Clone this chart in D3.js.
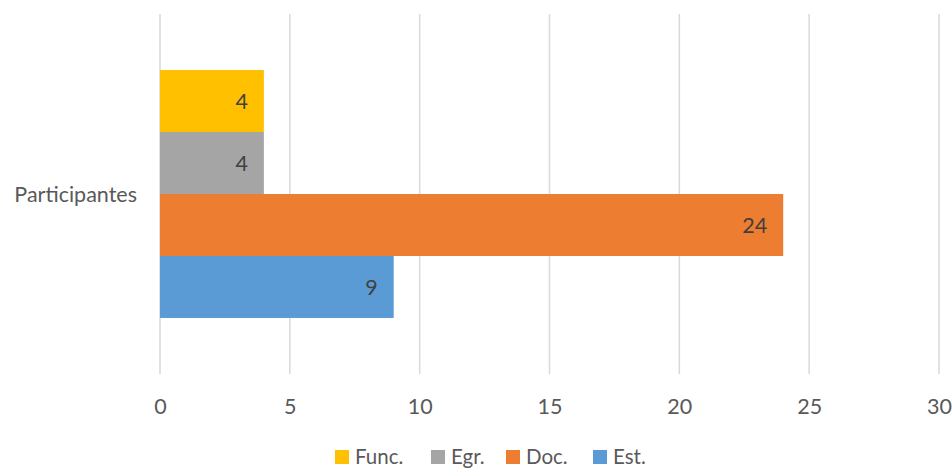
<!DOCTYPE html>
<html>
<head>
<meta charset="utf-8">
<script src="https://cdn.jsdelivr.net/npm/d3@7"></script>
<style>
  body { margin: 0; background: #fff; }
  text { font-family: Lato, "Open Sans", sans-serif; }
</style>
</head>
<body>
<div id="chart"></div>
<script>
// Width and height
const WIDTH = 952;
const HEIGHT = 469;
const FONT = 21.5;

// Data
const categories = ["Participantes"];
const seriesNames = ["Est.", "Doc.", "Egr.", "Func."];
const seriesValues = [9, 24, 4, 4];
const seriesColors = ["#5B9BD5", "#ED7D31", "#A5A5A5", "#FFC000"];
const legendOrder = ["Func.", "Egr.", "Doc.", "Est."];
const xTicks = [0, 5, 10, 15, 20, 25, 30];

// Plot area
const LEFT = 160;
const RIGHT = 939;
const TOP = 14;
const BOTTOM = 374;

const svg = d3
  .select("#chart")
  .append("svg")
  .attr("width", WIDTH)
  .attr("height", HEIGHT);

// Scales
const x = d3.scaleLinear().domain([0, 30]).range([LEFT, RIGHT]);

const yCat = d3
  .scaleBand()
  .domain(categories)
  .range([BOTTOM, TOP])
  .paddingInner(0)
  .paddingOuter(0.226);

// series from bottom (Est.) to top (Func.)
const ySeries = d3
  .scaleBand()
  .domain(seriesNames)
  .range([yCat.bandwidth(), 0])
  .padding(0);

// Gridlines
svg
  .append("g")
  .selectAll("line")
  .data(xTicks)
  .enter()
  .append("line")
  .attr("x1", (d) => x(d))
  .attr("x2", (d) => x(d))
  .attr("y1", TOP)
  .attr("y2", BOTTOM)
  .attr("stroke", "#D9D9D9")
  .attr("stroke-width", 1.5);

// X axis labels
const xAxis = svg
  .append("g")
  .attr("transform", "translate(0," + (BOTTOM + 40) + ")")
  .call(d3.axisBottom(x).tickValues(xTicks).tickSize(0).tickPadding(0));

xAxis.select(".domain").remove();
xAxis
  .selectAll("text")
  .attr("dy", null)
  .attr("y", 0)
  .attr("font-size", FONT)
  .attr("font-family", "Lato, sans-serif")
  .attr("fill", "#595959");

// Category label
svg
  .selectAll(".cat")
  .data(categories)
  .enter()
  .append("text")
  .attr("class", "cat")
  .attr("x", LEFT - 23)
  .attr("y", (d) => yCat(d) + yCat.bandwidth() / 2 + 8)
  .attr("text-anchor", "end")
  .attr("font-size", FONT)
  .attr("fill", "#595959")
  .text((d) => d);

// Bars
const rows = seriesNames.map((name, i) => ({
  name: name,
  value: seriesValues[i],
  color: seriesColors[i],
}));

const g = svg
  .append("g")
  .attr("transform", "translate(0," + yCat(categories[0]) + ")");

g.selectAll("rect")
  .data(rows)
  .enter()
  .append("rect")
  .attr("x", x(0))
  .attr("y", (d) => ySeries(d.name))
  .attr("width", (d) => x(d.value) - x(0))
  .attr("height", ySeries.bandwidth())
  .attr("fill", (d) => d.color);

// Value labels, inside end
g.selectAll(".lbl")
  .data(rows)
  .enter()
  .append("text")
  .attr("class", "lbl")
  .attr("x", (d) => x(d.value) - 16)
  .attr("y", (d) => ySeries(d.name) + ySeries.bandwidth() / 2 + 8)
  .attr("text-anchor", "end")
  .attr("font-size", FONT)
  .attr("fill", "#404040")
  .text((d) => d.value);

// Legend
const legendX = [335, 431, 506, 593];
const legend = svg
  .append("g")
  .selectAll("g")
  .data(legendOrder)
  .enter()
  .append("g")
  .attr("transform", (d, i) => "translate(" + legendX[i] + ",450)");

legend
  .append("rect")
  .attr("width", 14)
  .attr("height", 14)
  .attr("fill", (d) => seriesColors[seriesNames.indexOf(d)]);

legend
  .append("text")
  .attr("x", 20)
  .attr("y", 14)
  .attr("font-size", 20.5)
  .attr("fill", "#595959")
  .text((d) => d);
</script>
</body>
</html>
